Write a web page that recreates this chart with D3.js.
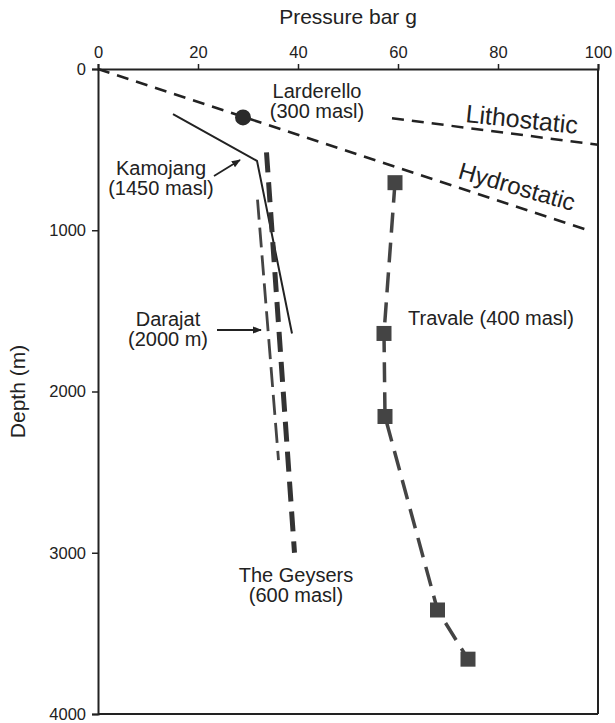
<!DOCTYPE html>
<html>
<head>
<meta charset="utf-8">
<script src="https://cdn.jsdelivr.net/npm/d3@7"></script>
<style>
  body { margin: 0; background: #fff; }
  svg { display: block; font-family: "Liberation Sans", Arial, sans-serif; }
</style>
</head>
<body>
<svg id="chart"></svg>
<script>
// Pressure (bar g) vs depth (m) for each field
var hydroP = [0, 98];
var hydroD = [0, 1000];
var lithoP = [58.8, 100];
var lithoD = [305, 470];
var larderelloP = [29];
var larderelloD = [300];
var kamojangP = [15, 31.8, 38.8];
var kamojangD = [280, 570, 1640];
var darajatP = [31.9, 36.1];
var darajatD = [810, 2425];
var geysersP = [33.7, 39.3];
var geysersD = [517, 3000];
var travaleP = [59.4, 57.2, 57.4, 67.9, 74.0];
var travaleD = [705, 1640, 2155, 3355, 3660];

var xTicks = [0, 20, 40, 60, 80, 100];
var yTicks = [0, 1000, 2000, 3000, 4000];

var svgWidth = 615;
var svgHeight = 723;
var margin = { top: 69, right: 17, bottom: 9, left: 98 };
var width = svgWidth - margin.left - margin.right;
var height = svgHeight - margin.top - margin.bottom;

var svg = d3.select("#chart")
    .attr("width", svgWidth)
    .attr("height", svgHeight);

var g = svg.append("g")
    .attr("transform", `translate(${margin.left},${margin.top})`);

var x = d3.scaleLinear().domain([0, 100]).range([0, width]);
var y = d3.scaleLinear().domain([0, 4000]).range([0, height]);

var ink = "#222";

// frame (right and bottom sides)
g.append("line").attr("x1", width).attr("x2", width).attr("y1", 0).attr("y2", height)
    .attr("stroke", ink).attr("stroke-width", 2);
g.append("line").attr("x1", 0).attr("x2", width).attr("y1", height).attr("y2", height)
    .attr("stroke", ink).attr("stroke-width", 2);

// axes
var topAxis = g.append("g")
    .call(d3.axisTop(x).tickValues(xTicks).tickFormat(d3.format("d")).tickSize(5).tickPadding(6));
var leftAxis = g.append("g")
    .call(d3.axisLeft(y).tickValues(yTicks).tickFormat(d3.format("d")).tickSize(6).tickPadding(6));

[topAxis, leftAxis].forEach(function(ax) {
  ax.select(".domain").attr("stroke", ink).attr("stroke-width", 2);
  ax.selectAll(".tick line").attr("stroke", ink).attr("stroke-width", 1.5);
  ax.selectAll(".tick text").attr("fill", ink).style("font-size", "16.5px")
      .style("font-family", "'Liberation Sans', Arial, sans-serif");
});

// axis titles
svg.append("text")
    .attr("x", 348).attr("y", 24)
    .attr("text-anchor", "middle")
    .style("font-size", "21px").attr("fill", ink)
    .text("Pressure bar g");

svg.append("text")
    .attr("transform", "translate(25," + (margin.top + height / 2) + ") rotate(-90)")
    .attr("text-anchor", "middle")
    .style("font-size", "21px").attr("fill", ink)
    .text("Depth (m)");

// line helper
function toPoints(ps, ds) {
  return ps.map(function(p, i) { return [p, ds[i]]; });
}
var line = d3.line().x(d => x(d[0])).y(d => y(d[1]));

function drawLine(ps, ds, w, dash, color) {
  g.append("path")
      .datum(toPoints(ps, ds))
      .attr("d", line)
      .attr("fill", "none")
      .attr("stroke", color)
      .attr("stroke-width", w)
      .attr("stroke-dasharray", dash);
}

drawLine(hydroP, hydroD, 2.5, "12,8", ink);
drawLine(lithoP, lithoD, 2.5, "12,8", ink);
drawLine(kamojangP, kamojangD, 2, null, ink);
drawLine(darajatP, darajatD, 2.8, "20,8", "#444");
drawLine(geysersP, geysersD, 5, "20,10", "#333");
drawLine(travaleP, travaleD, 3.5, "20,10", "#444");

// Larderello point
g.selectAll(".lard")
    .data(toPoints(larderelloP, larderelloD))
    .enter().append("circle")
    .attr("cx", d => x(d[0]))
    .attr("cy", d => y(d[1]))
    .attr("r", 8)
    .attr("fill", "#2a2a2a");

// Travale points
var sq = 15;
g.selectAll(".trav")
    .data(toPoints(travaleP, travaleD))
    .enter().append("rect")
    .attr("x", d => x(d[0]) - sq / 2)
    .attr("y", d => y(d[1]) - sq / 2)
    .attr("width", sq)
    .attr("height", sq)
    .attr("fill", "#444");

// labels
function label(xp, yp, lines, anchor) {
  var t = svg.append("text")
      .attr("text-anchor", anchor || "middle")
      .style("font-size", "20px").attr("fill", ink);
  lines.forEach(function(s, i) {
    t.append("tspan").attr("x", xp).attr("y", yp + i * 20).text(s);
  });
}

label(317, 98, ["Larderello", "(300 masl)"]);
label(161, 175, ["Kamojang", "(1450 masl)"]);
label(168, 326, ["Darajat", "(2000 m)"]);
label(408, 325, ["Travale (400 masl)"], "start");
label(296, 582, ["The Geysers", "(600 masl)"]);

svg.append("text")
    .attr("transform", "translate(465,122) rotate(6)")
    .style("font-size", "25px").attr("fill", ink)
    .text("Lithostatic");
svg.append("text")
    .attr("transform", "translate(457,178) rotate(16)")
    .style("font-size", "24px").attr("fill", ink)
    .text("Hydrostatic");

// arrows
svg.append("defs").append("marker")
    .attr("id", "arrow")
    .attr("viewBox", "0 0 10 10")
    .attr("refX", 9).attr("refY", 5)
    .attr("markerWidth", 5).attr("markerHeight", 5)
    .attr("orient", "auto")
    .append("path")
    .attr("d", "M0,1 L10,5 L0,9 Z")
    .attr("fill", ink);

svg.append("line")
    .attr("x1", 214).attr("y1", 176).attr("x2", 240).attr("y2", 160)
    .attr("stroke", ink).attr("stroke-width", 1.8)
    .attr("marker-end", "url(#arrow)");
svg.append("line")
    .attr("x1", 217).attr("y1", 330).attr("x2", 261).attr("y2", 330)
    .attr("stroke", ink).attr("stroke-width", 1.8)
    .attr("marker-end", "url(#arrow)");
</script>
</body>
</html>
